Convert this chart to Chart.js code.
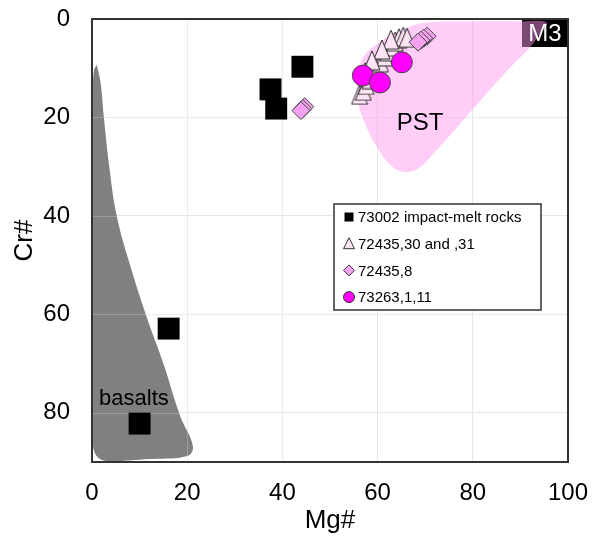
<!DOCTYPE html>
<html>
<head>
<meta charset="utf-8">
<script src="https://cdn.jsdelivr.net/npm/chart.js@4/dist/chart.umd.min.js"></script>
<style>
  html, body { margin: 0; padding: 0; background: #fff; }
</style>
</head>
<body>
<canvas id="chart" width="592" height="542"></canvas>
<script>
const FONT = "'Liberation Sans', Arial, sans-serif";

// axis ticks
const xTicks = [0, 20, 40, 60, 80, 100];
const yTicks = [0, 20, 40, 60, 80];

// [Mg#, Cr#]
const impactMelt = [[44.2, 9.7], [37.5, 14.3], [38.7, 18.2], [16.1, 62.9], [10.0, 82.2]];
const s72435_30 = [
  [56.2, 15.4], [57.0, 14.6], [57.6, 13.4], [58.4, 12.2], [59.1, 11.0], [59.8, 9.8],
  [60.6, 8.8], [61.5, 7.6], [62.2, 6.6], [63.0, 5.6], [63.7, 4.6], [64.5, 3.9],
  [65.4, 3.6], [62.8, 4.2], [66.2, 3.8], [60.9, 6.2], [58.8, 8.4], [57.4, 10.8]
];
const s72435_8 = [[44.7, 17.8], [44.3, 18.2], [43.9, 18.6], [70.4, 3.5], [69.7, 3.9], [69.1, 4.3], [68.5, 4.7]];
const s73263 = [[56.9, 11.5], [60.5, 12.9], [65.1, 8.8]];

// field outlines (closed)
const pstOutline = [
  [80, 0.5], [90, 0.5], [95.5, 0.7], [94.2, 2.8], [92, 5.8], [88.4, 9.3], [82.1, 16],
  [76.7, 22], [71.6, 27.5], [68.3, 30.5], [65.1, 31], [62.6, 29.5], [59.9, 26.1],
  [57.4, 21.4], [55.9, 16.8], [55.7, 12.7], [56.9, 7.9], [60.5, 4.6], [66.2, 1.8],
  [70.4, 0.7], [80, 0.5]
];
const basaltOutline = [
  [1.0, 9.3], [1.8, 12.9], [2.5, 20], [3.6, 29.8], [5.2, 40], [8.0, 50], [11.5, 60.6],
  [15.0, 70], [18.5, 80.6], [21.2, 86.8], [20.0, 88.8], [12, 89.4], [4.5, 89.8],
  [1.5, 89.3], [0.2, 86.5], [0.15, 70], [0.15, 50], [0.15, 30], [0.2, 15], [0.4, 10.5], [1.0, 9.3]
];

const legendItems = ['73002 impact-melt rocks', '72435,30 and ,31', '72435,8', '73263,1,11'];
const fieldLabels = [{ text: 'PST', x: 68.9, y: 21.3, size: 24 }, { text: 'basalts', x: 8.8, y: 77.2, size: 22 }];

const pts = (arr) => arr.map(([x, y]) => ({ x, y }));

function makeTriangle(w, h, fill, stroke) {
  const c = document.createElement('canvas');
  c.width = w + 2;
  c.height = h + 2;
  const g = c.getContext('2d');
  g.beginPath();
  g.moveTo(c.width / 2, 1);
  g.lineTo(w + 1, h + 1);
  g.lineTo(1, h + 1);
  g.closePath();
  g.fillStyle = fill;
  g.fill();
  g.lineWidth = 1;
  g.strokeStyle = stroke;
  g.stroke();
  return c;
}
const triFill = '#fde4f5';
const triBig = makeTriangle(16, 19, triFill, '#2a2a2a');

// label overflow would push the plot inward; the frame is fixed by layout padding instead
function noOverflow(scale) {
  scale.paddingTop = 0;
  scale.paddingBottom = 0;
  scale.paddingLeft = 0;
  scale.paddingRight = 0;
}

const frame = {
  id: 'frame',
  beforeDatasetsDraw(chart) {
    const { ctx, chartArea: a } = chart;
    ctx.save();
    ctx.fillStyle = '#000';
    ctx.fillRect(a.right - 46, a.top, 46, 28);
    ctx.restore();
  },
  afterDatasetDraw(chart, args) {
    // grid shows faintly through the basalt field
    if (chart.data.datasets[args.index].label !== 'basalts') return;
    const { ctx, chartArea: a, scales } = chart;
    ctx.save();
    ctx.beginPath();
    ctx.rect(a.left, a.top, a.right - a.left, a.bottom - a.top);
    ctx.clip();
    ctx.strokeStyle = 'rgba(255,255,255,0.22)';
    ctx.lineWidth = 1;
    ctx.beginPath();
    xTicks.forEach((v) => {
      const px = Math.round(scales.x.getPixelForValue(v)) + 0.5;
      ctx.moveTo(px, a.top);
      ctx.lineTo(px, a.bottom);
    });
    yTicks.forEach((v) => {
      const py = Math.round(scales.y.getPixelForValue(v)) + 0.5;
      ctx.moveTo(a.left, py);
      ctx.lineTo(a.right, py);
    });
    ctx.stroke();
    ctx.restore();
  },
  afterDatasetsDraw(chart) {
    const { ctx, chartArea: a, scales } = chart;
    ctx.save();
    // M3 tag text
    ctx.fillStyle = '#fff';
    ctx.font = `24px ${FONT}`;
    ctx.textAlign = 'center';
    ctx.textBaseline = 'middle';
    ctx.fillText('M3', a.right - 23, a.top + 15);

    // field names
    ctx.fillStyle = '#000';
    fieldLabels.forEach((l) => {
      ctx.font = `${l.size}px ${FONT}`;
      ctx.fillText(l.text, scales.x.getPixelForValue(l.x), scales.y.getPixelForValue(l.y));
    });

    // plot frame
    ctx.strokeStyle = '#333';
    ctx.lineWidth = 2;
    ctx.strokeRect(a.left, a.top, a.right - a.left, a.bottom - a.top);

    // legend box
    const bx = a.left + 242, by = a.top + 185, bw = 207, bh = 106;
    ctx.fillStyle = '#fff';
    ctx.fillRect(bx, by, bw, bh);
    ctx.lineWidth = 1.5;
    ctx.strokeStyle = '#333';
    ctx.strokeRect(bx, by, bw, bh);

    const mx = bx + 15;
    const rowY = (i) => by + 13 + i * 26.7;
    // square
    ctx.fillStyle = '#000';
    ctx.fillRect(mx - 4.5, rowY(0) - 4.5, 9, 9);
    // triangle
    ctx.beginPath();
    ctx.moveTo(mx, rowY(1) - 6);
    ctx.lineTo(mx + 5.5, rowY(1) + 5);
    ctx.lineTo(mx - 5.5, rowY(1) + 5);
    ctx.closePath();
    ctx.fillStyle = triFill;
    ctx.fill();
    ctx.lineWidth = 1;
    ctx.strokeStyle = '#333';
    ctx.stroke();
    // diamond
    ctx.beginPath();
    ctx.moveTo(mx, rowY(2) - 5.5);
    ctx.lineTo(mx + 5.5, rowY(2));
    ctx.lineTo(mx, rowY(2) + 5.5);
    ctx.lineTo(mx - 5.5, rowY(2));
    ctx.closePath();
    ctx.fillStyle = '#f5a3f0';
    ctx.fill();
    ctx.stroke();
    // circle
    ctx.beginPath();
    ctx.arc(mx, rowY(3), 5.5, 0, Math.PI * 2);
    ctx.fillStyle = '#ff00ff';
    ctx.fill();
    ctx.stroke();

    ctx.fillStyle = '#000';
    ctx.font = `15px ${FONT}`;
    ctx.textAlign = 'left';
    legendItems.forEach((t, i) => ctx.fillText(t, mx + 9, rowY(i) + 1));
    ctx.restore();
  },
};

new Chart(document.getElementById('chart'), {
  type: 'scatter',
  data: {
    datasets: [
      {
        label: '73263,1,11',
        data: pts(s73263),
        order: 1,
        pointStyle: 'circle',
        pointRadius: 10.5,
        backgroundColor: '#ff00ff',
        borderColor: '#444',
        borderWidth: 1,
      },
      {
        label: '72435,8',
        data: pts(s72435_8),
        order: 2,
        pointStyle: 'rectRot',
        pointRadius: 9,
        backgroundColor: '#f5a3f0',
        borderColor: '#444',
        borderWidth: 1,
      },
      {
        label: '72435,30 and ,31',
        data: pts(s72435_30),
        order: 3,
        pointStyle: triBig,
        pointRadius: 10,
      },
      {
        label: '73002 impact-melt rocks',
        data: pts(impactMelt),
        order: 4,
        pointStyle: 'rect',
        pointRadius: 15.5,
        backgroundColor: '#000',
        borderColor: '#000',
        borderWidth: 0,
      },
      {
        label: 'PST',
        data: pts(pstOutline),
        order: 10,
        showLine: true,
        fill: 'shape',
        tension: 0.4,
        pointRadius: 0,
        borderWidth: 0,
        borderColor: 'rgba(0,0,0,0)',
        backgroundColor: 'rgba(255,150,238,0.48)',
      },
      {
        label: 'basalts',
        data: pts(basaltOutline),
        order: 11,
        showLine: true,
        fill: 'shape',
        tension: 0.4,
        pointRadius: 0,
        borderWidth: 0,
        borderColor: 'rgba(0,0,0,0)',
        backgroundColor: '#808080',
      },
    ],
  },
  options: {
    responsive: false,
    animation: false,
    devicePixelRatio: 1,
    layout: { padding: { left: 0, right: 24, top: 19, bottom: 0 } },
    plugins: {
      legend: { display: false },
      tooltip: { enabled: false },
    },
    scales: {
      x: {
        type: 'linear',
        min: 0,
        max: 100,
        afterBuildTicks(scale) {
          scale.ticks = xTicks.map((v) => ({ value: v }));
        },
        afterFit(scale) {
          scale.height = 80;
          noOverflow(scale);
        },
        ticks: { color: '#000', font: { family: FONT, size: 24 }, padding: 17, maxRotation: 0 },
        grid: { color: '#e6e6e6', drawTicks: false },
        border: { display: false },
        title: {
          display: true,
          text: 'Mg#',
          color: '#000',
          font: { family: FONT, size: 26 },
          padding: { top: 0, bottom: 6 },
        },
      },
      y: {
        type: 'linear',
        min: 0,
        max: 90,
        reverse: true,
        afterBuildTicks(scale) {
          scale.ticks = yTicks.map((v) => ({ value: v }));
        },
        afterFit(scale) {
          scale.width = 92;
          noOverflow(scale);
        },
        ticks: { color: '#000', font: { family: FONT, size: 24 }, padding: 22 },
        grid: { color: '#e6e6e6', drawTicks: false },
        border: { display: false },
        title: {
          display: true,
          text: 'Cr#',
          color: '#000',
          font: { family: FONT, size: 26 },
          padding: { top: 9, bottom: 0 },
        },
      },
    },
  },
  plugins: [frame],
});
</script>
</body>
</html>
